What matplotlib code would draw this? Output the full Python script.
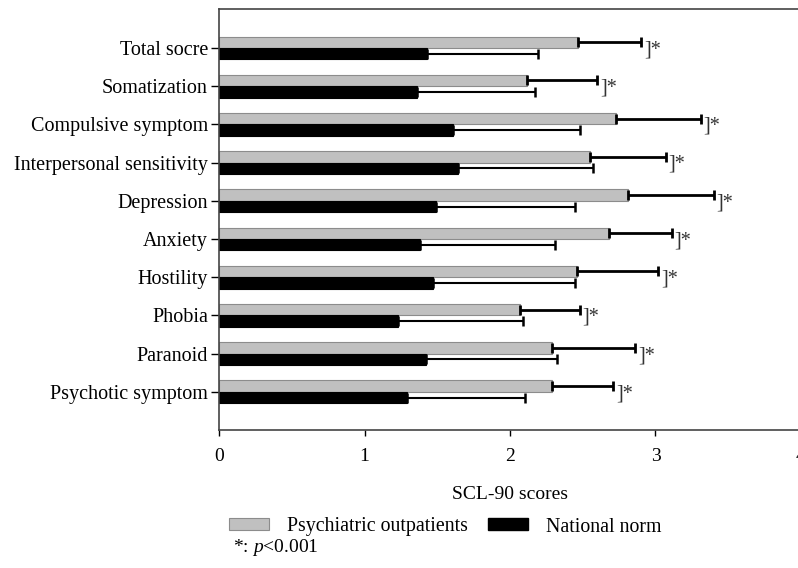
import numpy as np
import matplotlib
matplotlib.use('Agg')
from matplotlib import pyplot as plt
from matplotlib.patches import Patch

plt.rcParams['font.family'] = ['Liberation Serif', 'DejaVu Serif']
plt.rcParams['mathtext.fontset'] = 'custom'
plt.rcParams['mathtext.rm'] = 'Liberation Serif'
plt.rcParams['mathtext.it'] = 'Liberation Serif:italic'

# SCL-90 factor scores, mean and SD
categories = ['Total socre', 'Somatization', 'Compulsive symptom',
              'Interpersonal sensitivity', 'Depression', 'Anxiety',
              'Hostility', 'Phobia', 'Paranoid', 'Psychotic symptom']
outpatient_mean = [2.47, 2.12, 2.73, 2.55, 2.81, 2.68, 2.46, 2.07, 2.29, 2.29]
outpatient_sd = [0.43, 0.48, 0.58, 0.52, 0.59, 0.43, 0.56, 0.41, 0.57, 0.42]
norm_mean = [1.43, 1.36, 1.61, 1.64, 1.49, 1.38, 1.47, 1.23, 1.42, 1.29]
norm_sd = [0.76, 0.81, 0.87, 0.93, 0.96, 0.93, 0.98, 0.86, 0.90, 0.81]
x_ticks = [0, 1, 2, 3, 4]

W, H = 798, 568
fig = plt.figure(figsize=(W / 100, H / 100), dpi=100)
# axis runs 0..4 but the right end sits just past the image edge
ax = fig.add_axes([219 / W, 1 - 430 / H, (801 - 219) / W, (430 - 9) / H])

y = np.arange(len(categories))
bar_h = 0.30

ax.barh(y - bar_h / 2, outpatient_mean, height=bar_h, color='#c0c0c0',
        edgecolor='#8c8c8c', linewidth=0.8, zorder=2)
ax.barh(y + bar_h / 2, norm_mean, height=bar_h, color='black',
        edgecolor='black', linewidth=0.8, zorder=2)

# one-sided SD bars
zero = np.zeros(len(categories))
ax.errorbar(outpatient_mean, y - bar_h / 2, xerr=[zero, outpatient_sd],
            fmt='none', ecolor='black', elinewidth=2.0, capsize=3.5,
            capthick=2.0, zorder=3)
ax.errorbar(norm_mean, y + bar_h / 2, xerr=[zero, norm_sd],
            fmt='none', ecolor='black', elinewidth=1.5, capsize=3.5,
            capthick=1.8, zorder=3)

# significance markers
for i, (m, s) in enumerate(zip(outpatient_mean, outpatient_sd)):
    ax.text(m + s + 0.02, i + 0.05, ']*', fontsize=14.5, color='#333333',
            ha='left', va='center')

ax.set_xlim(0, 4)
ax.set_ylim(len(categories) - 0.0, -1.02)
ax.set_xticks(x_ticks)
ax.set_xticklabels([str(t) for t in x_ticks], fontsize=14)
ax.set_yticks(y)
ax.set_yticklabels(categories, fontsize=14.5)
ax.tick_params(axis='x', direction='out', length=4, width=1, pad=9)
ax.tick_params(axis='y', direction='out', length=6, width=1, pad=2)
for sp in ax.spines.values():
    sp.set_color('#444444')
    sp.set_linewidth(1.2)

ax.set_xlabel('SCL-90 scores', fontsize=14, labelpad=15)

handles = [Patch(facecolor='#c0c0c0', edgecolor='#8c8c8c', linewidth=0.8),
           Patch(facecolor='black', edgecolor='black')]
fig.legend(handles, ['Psychiatric outpatients', 'National norm'],
           loc='center left', bbox_to_anchor=(229 / W, 1 - 527 / H),
           ncol=2, frameon=False, fontsize=14.3, borderpad=0,
           borderaxespad=0, handlelength=2.0, handleheight=0.55,
           handletextpad=0.9, columnspacing=1.05)

fig.text(233 / W, 1 - 547 / H, r'*: $p$<0.001', fontsize=14,
         ha='left', va='center')

fig.savefig('out.png', dpi=100)
